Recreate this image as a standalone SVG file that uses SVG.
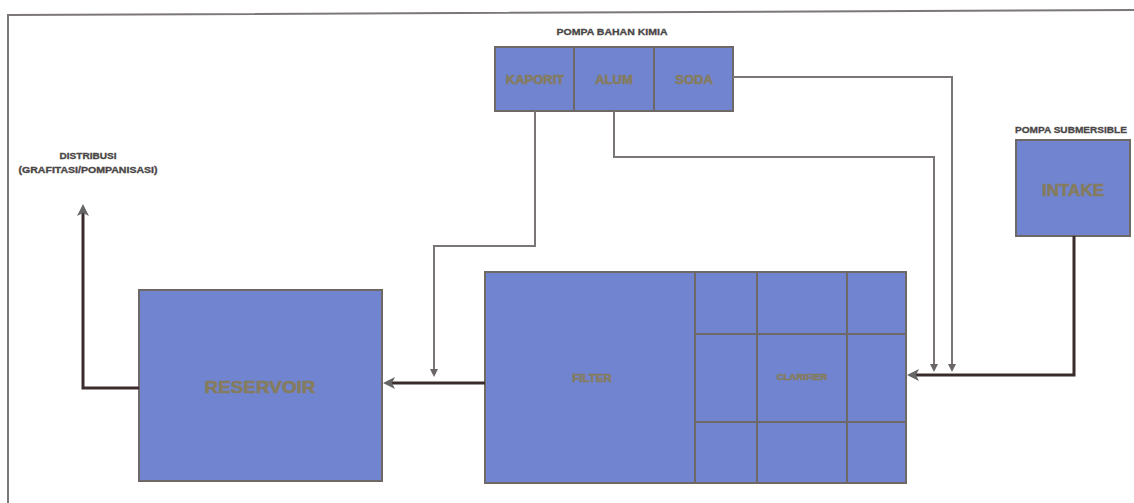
<svg xmlns="http://www.w3.org/2000/svg" width="1134" height="503" viewBox="0 0 1134 503">
<style>
  .box { fill: #7084d0; stroke: #6e6866; stroke-width: 2; }
  .grid { stroke: #6e6866; stroke-width: 2; fill: none; }
  .lbl { font-family: "Liberation Sans", Arial, sans-serif; font-weight: bold; fill: #857c5e; stroke: #857c5e; stroke-width: 0.6; text-anchor: middle; }
  .cap { font-family: "Liberation Sans", Arial, sans-serif; font-weight: bold; fill: #4a4646; stroke: #4a4646; stroke-width: 0.3; text-anchor: middle; }
  .thin { fill: none; stroke: #7a7676; stroke-width: 2; }
  .thick { fill: none; stroke: #3a2c2c; stroke-width: 3; }
  .frame { fill: none; stroke: #7d7878; stroke-width: 2; }
</style>
<defs>
  <marker id="ah" viewBox="0 0 12 12" markerWidth="12" markerHeight="12" markerUnits="userSpaceOnUse" refX="4" refY="6" orient="auto">
    <path d="M0,0 L12,6 L0,12 L3,6 z" fill="#666"/>
  </marker>
  <marker id="as" viewBox="0 0 8 8" markerWidth="8" markerHeight="8" markerUnits="userSpaceOnUse" refX="3" refY="4" orient="auto">
    <path d="M0,0 L8,4 L0,8 z" fill="#6a6666"/>
  </marker>
</defs>
<rect width="1134" height="503" fill="#ffffff"/>
<path class="frame" d="M8,503 V15 L1134,10"/>

<g id="pompa-bahan-kimia">
  <text class="cap" x="612" y="35" font-size="9.5" textLength="111" lengthAdjust="spacingAndGlyphs">POMPA BAHAN KIMIA</text>
  <g id="kaporit">
    <rect class="box" x="495" y="47" width="79" height="64"/>
    <text class="lbl" x="535" y="84" font-size="13">KAPORIT</text>
  </g>
  <g id="alum">
    <rect class="box" x="574" y="47" width="80" height="64"/>
    <text class="lbl" x="614" y="84" font-size="13">ALUM</text>
  </g>
  <g id="soda">
    <rect class="box" x="654" y="47" width="79" height="64"/>
    <text class="lbl" x="694" y="84" font-size="13">SODA</text>
  </g>
</g>

<g id="intake">
  <text class="cap" x="1071" y="133" font-size="9.5" textLength="112" lengthAdjust="spacingAndGlyphs">POMPA SUBMERSIBLE</text>
  <rect class="box" x="1016" y="140" width="114" height="96"/>
  <text class="lbl" x="1073" y="196" font-size="17">INTAKE</text>
</g>

<g id="filter">
  <rect class="box" x="485" y="272" width="210" height="211"/>
  <text class="lbl" x="592" y="382" font-size="11.5">FILTER</text>
</g>

<g id="clarifier">
  <rect class="box" x="695" y="272" width="211" height="211"/>
  <path class="grid" d="M757,272 V483 M847,272 V483 M695,334 H906 M695,422 H906"/>
  <text class="lbl" x="802" y="380" font-size="9.5">CLARIFIER</text>
</g>

<g id="reservoir">
  <rect class="box" x="139" y="290" width="243" height="191"/>
  <text class="lbl" x="260" y="393" font-size="17" textLength="111" lengthAdjust="spacingAndGlyphs">RESERVOIR</text>
</g>

<g id="distribusi">
  <text class="cap" x="88" y="159" font-size="8.5" textLength="57" lengthAdjust="spacingAndGlyphs">DISTRIBUSI</text>
  <text class="cap" x="88" y="173" font-size="8.5" textLength="139" lengthAdjust="spacingAndGlyphs">(GRAFITASI/POMPANISASI)</text>
</g>

<g id="connectors">
  <path class="thick" d="M1074,236 V375 H915" marker-end="url(#ah)"/>
  <path class="thick" d="M485,383 H391" marker-end="url(#ah)"/>
  <path class="thick" d="M139,388 H83 V212" marker-end="url(#ah)"/>
  <path class="thin" d="M535,111 V246 H434 V372" marker-end="url(#as)"/>
  <path class="thin" d="M614,111 V157 H934 V367" marker-end="url(#as)"/>
  <path class="thin" d="M733,77 H952 V367" marker-end="url(#as)"/>
</g>
</svg>
